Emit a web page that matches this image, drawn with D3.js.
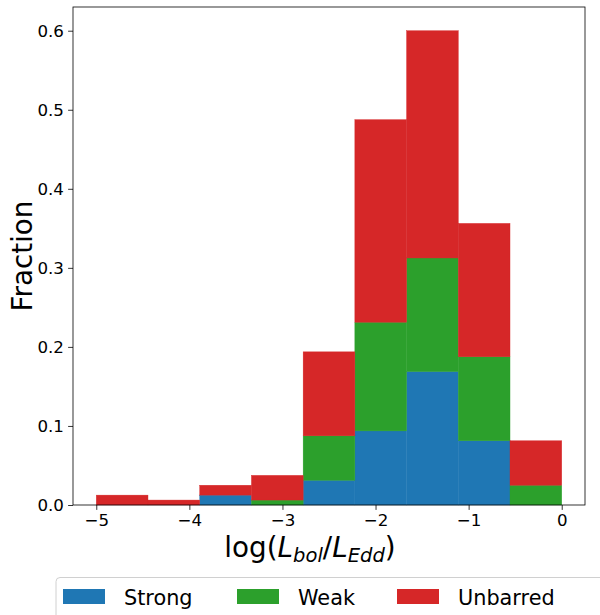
<!DOCTYPE html>
<html>
<head>
<meta charset="utf-8">
<script src="https://cdn.jsdelivr.net/npm/d3@7"></script>
<style>
  body { margin: 0; background: #fff; }
  svg { font-family: "DejaVu Sans", sans-serif; }
</style>
</head>
<body>
<div id="main"></div>
<script>
// size of the figure
const width = 600;
const height = 615;
const margin = {left: 73, right: 15, top: 7, bottom: 110};

// data: fraction per bin (9 bins between -5 and 0), stacked
const binLo = -5;
const binHi = 0;
const nBins = 9;
const strong   = [0, 0, 0.0125, 0, 0.03125, 0.09375, 0.16875, 0.08125, 0];
const weak     = [0, 0, 0, 0.00625, 0.05625, 0.1375, 0.14375, 0.10625, 0.025];
const unbarred = [0.0125, 0.00625, 0.0125, 0.03125, 0.10625, 0.25625, 0.2875, 0.16875, 0.05625];
const seriesNames = ["Strong", "Weak", "Unbarred"];
const colors = ["#1f77b4", "#2ca02c", "#d62728"];
const xTicks = [-5, -4, -3, -2, -1, 0];
const yTicks = [0, 0.1, 0.2, 0.3, 0.4, 0.5, 0.6];

const svg = d3.select('#main')
  .append('svg')
  .attr('width', width)
  .attr('height', height);

// rows for the stack
const binW = (binHi - binLo) / nBins;
const rows = strong.map((d, i) => ({
  x0: binLo + i * binW,
  x1: binLo + (i + 1) * binW,
  Strong: d,
  Weak: weak[i],
  Unbarred: unbarred[i]
}));
const stacked = d3.stack().keys(seriesNames)(rows);

// scales, with matplotlib-like 5% margins
const xScale = d3.scaleLinear().domain([-5.25, 0.25]).range([margin.left, width - margin.right]);
const yScale = d3.scaleLinear().domain([0, 0.63]).range([505, margin.top]);

// bars (a thin same-colour stroke hides the seams between bins)
stacked.forEach((layer, k) => {
  svg.append('g').selectAll('rect').data(layer.filter(d => d[1] > d[0])).enter()
    .append('rect')
    .attr('x', d => xScale(d.data.x0))
    .attr('width', d => xScale(d.data.x1) - xScale(d.data.x0))
    .attr('y', d => yScale(d[1]))
    .attr('height', d => yScale(d[0]) - yScale(d[1]))
    .attr('fill', colors[k])
    .attr('stroke', colors[k])
    .attr('stroke-width', 0.4);
});

// axes
const xAxis = d3.axisBottom(xScale).tickValues(xTicks)
  .tickFormat(d => d < 0 ? "\u2212" + Math.abs(d) : d)
  .tickSize(4.9).tickPadding(4.2).tickSizeOuter(0);
const yAxis = d3.axisLeft(yScale).tickValues(yTicks)
  .tickFormat(d3.format(".1f"))
  .tickSize(4.9).tickPadding(4.2).tickSizeOuter(0);

const gx = svg.append('g').attr('transform', 'translate(0,505)').call(xAxis);
const gy = svg.append('g').attr('transform', 'translate(' + margin.left + ',0)').call(yAxis);
[gx, gy].forEach(g => {
  g.select('.domain').remove();
  g.selectAll('.tick line').attr('stroke', '#000').attr('stroke-width', 0.8);
  g.selectAll('.tick text')
    .attr('fill', '#000')
    .style('font-size', '16.67px')
    .style('font-family', '"DejaVu Sans", sans-serif');
});

// frame
svg.append('rect')
  .attr('x', margin.left).attr('y', margin.top)
  .attr('width', xScale.range()[1] - margin.left)
  .attr('height', 505 - margin.top)
  .attr('fill', 'none').attr('stroke', '#000').attr('stroke-width', 0.8);

// y label
svg.append('text')
  .attr('transform', 'rotate(-90)')
  .attr('x', -256).attr('y', 32)
  .attr('text-anchor', 'middle')
  .style('font-size', '27.8px')
  .text('Fraction');

// x label with subscripts
const xl = svg.append('text')
  .attr('x', 310).attr('y', 557)
  .attr('text-anchor', 'middle')
  .style('font-size', '27.8px');
xl.append('tspan').text('log(');
xl.append('tspan').style('font-style', 'italic').text('L');
xl.append('tspan').style('font-style', 'italic').style('font-size', '19.5px').attr('dy', 5).text('bol');
xl.append('tspan').attr('dy', -5).text('/');
xl.append('tspan').style('font-style', 'italic').text('L');
xl.append('tspan').style('font-style', 'italic').style('font-size', '19.5px').attr('dy', 5).text('Edd');
xl.append('tspan').attr('dy', -5).text(')');

// legend
const legend = svg.append('g').attr('id', 'legend');
legend.append('rect')
  .attr('x', 56).attr('y', 577.5)
  .attr('width', 570).attr('height', 60)
  .attr('rx', 4)
  .attr('fill', '#fff').attr('stroke', '#d0d0d0').attr('stroke-width', 1);

const legendX = [63, 237, 397];
seriesNames.forEach((name, i) => {
  legend.append('rect')
    .attr('x', legendX[i]).attr('y', 589)
    .attr('width', 42).attr('height', 15)
    .attr('fill', colors[i]);
  legend.append('text')
    .attr('x', legendX[i] + 61).attr('y', 605)
    .style('font-size', '20.8px')
    .text(name);
});
</script>
</body>
</html>
